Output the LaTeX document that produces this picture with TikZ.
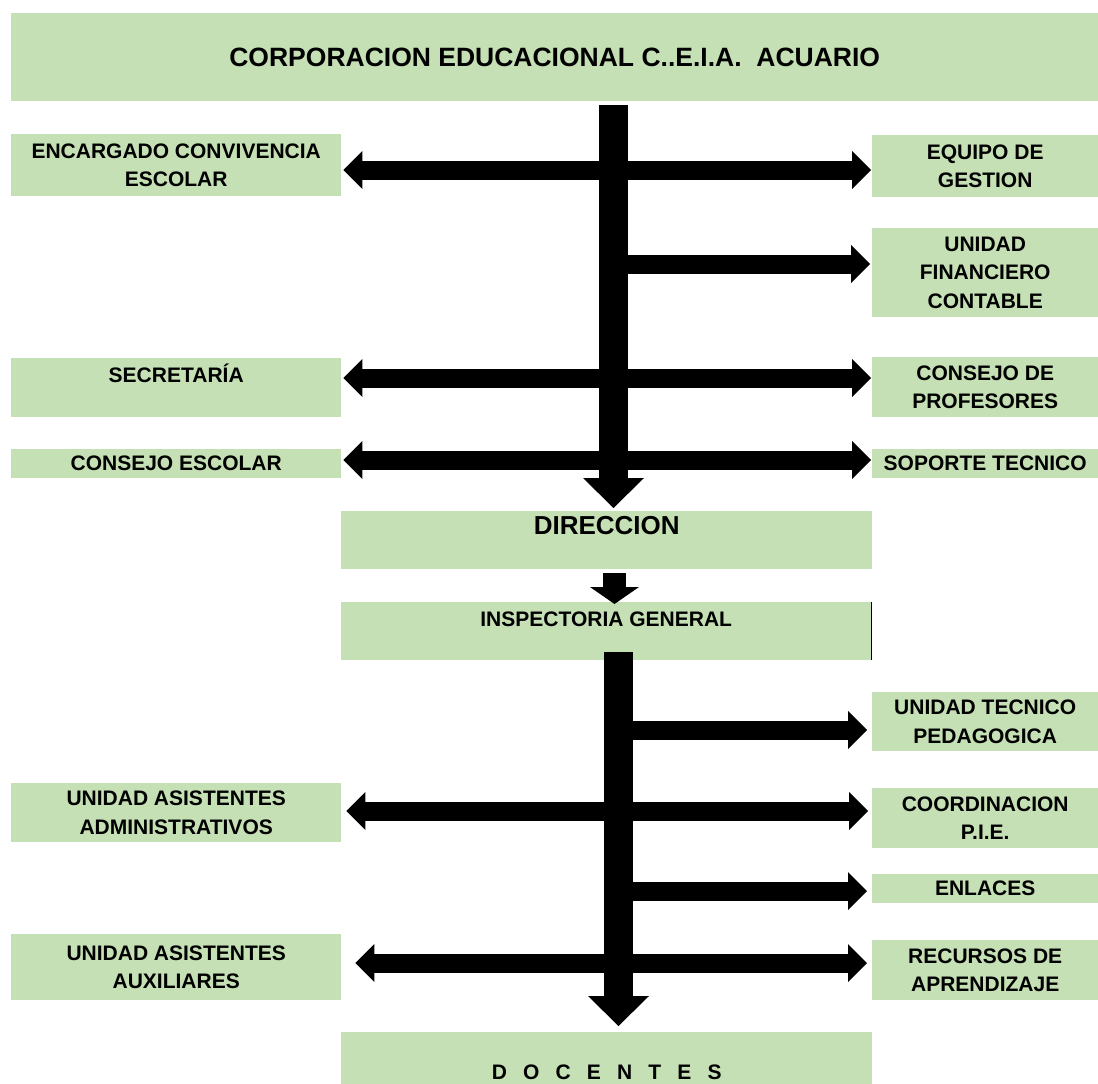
\documentclass[tikz,border=0pt]{standalone}
\usepackage{fontspec}
\setmainfont{Liberation Sans}
\usetikzlibrary{arrows.meta}
\definecolor{cellgreen}{HTML}{C5E0B4}
\tikzset{
  cell/.style={fill=cellgreen, anchor=north west, inner sep=0pt, align=center, font=\bfseries\fontsize{21}{28.5}\selectfont},
  branch/.style={line width=19pt, -{Triangle[length=19pt,width=38pt,line width=0pt]}},
  both/.style={line width=19pt, {Triangle[length=19pt,width=38pt,line width=0pt]}-{Triangle[length=19pt,width=38pt,line width=0pt]}},
  trunk/.style={line width=29pt, -{Triangle[length=30pt,width=61pt,line width=0pt]}}
}
\begin{document}
\begin{tikzpicture}[x=1pt,y=-1pt]
   \useasboundingbox (0,0) rectangle (1098,1084);

   \node[cell, minimum width=1087pt, minimum height=88pt, font=\bfseries\fontsize{26.5}{30}\selectfont] (corp) at (11,13) {CORPORACION EDUCACIONAL C..E.I.A.~~ACUARIO};

   \node[cell, minimum width=330pt, minimum height=62pt] (conv) at (11,134) {ENCARGADO CONVIVENCIA\\ESCOLAR};
   \node[cell, minimum width=330pt, minimum height=59pt] (secre) at (11,358) {SECRETARÍA\\\mbox{}};
   \node[cell, minimum width=330pt, minimum height=29pt] (cesc) at (11,449) {CONSEJO ESCOLAR};
   \node[cell, minimum width=330pt, minimum height=59pt] (admin) at (11,783) {UNIDAD ASISTENTES\\ADMINISTRATIVOS};
   \node[cell, minimum width=330pt, minimum height=66pt] (aux) at (11,934) {UNIDAD ASISTENTES\\AUXILIARES};

   \node[cell, minimum width=226pt, minimum height=62pt] (gestion) at (872,135) {EQUIPO DE\\GESTION};
   \node[cell, minimum width=226pt, minimum height=89pt] (finan) at (872,228) {UNIDAD\\FINANCIERO\\CONTABLE};
   \node[cell, minimum width=226pt, minimum height=60pt] (cprof) at (872,357) {CONSEJO DE\\PROFESORES};
   \node[cell, minimum width=226pt, minimum height=29pt] (soporte) at (872,449) {SOPORTE TECNICO};
   \node[cell, minimum width=226pt, minimum height=59pt] (utp) at (872,692) {UNIDAD TECNICO\\PEDAGOGICA};
   \node[cell, minimum width=226pt, minimum height=60pt] (pie) at (872,788) {COORDINACION\\P.I.E.};
   \node[cell, minimum width=226pt, minimum height=29pt] (enlaces) at (872,874) {ENLACES};
   \node[cell, minimum width=226pt, minimum height=60pt] (recursos) at (872,940) {RECURSOS DE\\APRENDIZAJE};

   \node[cell, minimum width=531pt, minimum height=58pt, font=\bfseries\fontsize{26}{30}\selectfont] (dir) at (341,511) {DIRECCION\\\mbox{}};
   \node[cell, minimum width=530pt, minimum height=58pt, font=\bfseries\fontsize{21}{24}\selectfont] (insp) at (341,602) {INSPECTORIA GENERAL\\\mbox{}};
   \node[cell, minimum width=531pt, minimum height=80pt] (doc) at (341,1032) {\spaceskip=0.77em D O C E N T E S};
   \draw[line width=1.5pt] (insp.north east) -- (insp.south east);

   % columns and rows of the arrows
   \coordinate (topcol) at (613.5,0);
   \coordinate (midcol) at (614.5,0);
   \coordinate (lowcol) at (618.5,0);
   \coordinate (r1) at (0,170);
   \coordinate (r2) at (0,264);
   \coordinate (r3) at (0,378);
   \coordinate (r4) at (0,460);
   \coordinate (r5) at (0,730);
   \coordinate (r6) at (0,811);
   \coordinate (r7) at (0,891);
   \coordinate (r8) at (0,963);

   \draw[both, shorten <=2pt, shorten >=1pt] (conv.east |- r1) -- (gestion.west |- r1);
   \draw[branch, shorten >=2pt] (topcol |- r2) -- (finan.west |- r2);
   \draw[both, shorten <=2pt, shorten >=1pt] (secre.east |- r3) -- (cprof.west |- r3);
   \draw[both, shorten <=2pt, shorten >=1pt] (cesc.east |- r4) -- (soporte.west |- r4);
   \draw[trunk, shorten <=4pt, shorten >=3pt] (corp.south -| topcol) -- (dir.north -| topcol);

   \draw[line width=23pt, -{Triangle[length=17pt,width=49pt,line width=0pt]}, shorten <=4pt, shorten >=-2pt] (dir.south -| midcol) -- (insp.north -| midcol);

   \draw[branch, shorten >=5pt] (lowcol |- r5) -- (utp.west |- r5);
   \draw[both, shorten <=5pt, shorten >=4pt] (admin.east |- r6) -- (pie.west |- r6);
   \draw[branch, shorten >=5pt] (lowcol |- r7) -- (enlaces.west |- r7);
   \draw[both, shorten <=14pt, shorten >=5pt] (aux.east |- r8) -- (recursos.west |- r8);
   \draw[trunk, shorten <=-8pt, shorten >=6pt] (insp.south -| lowcol) -- (doc.north -| lowcol);

\end{tikzpicture}
\end{document}
